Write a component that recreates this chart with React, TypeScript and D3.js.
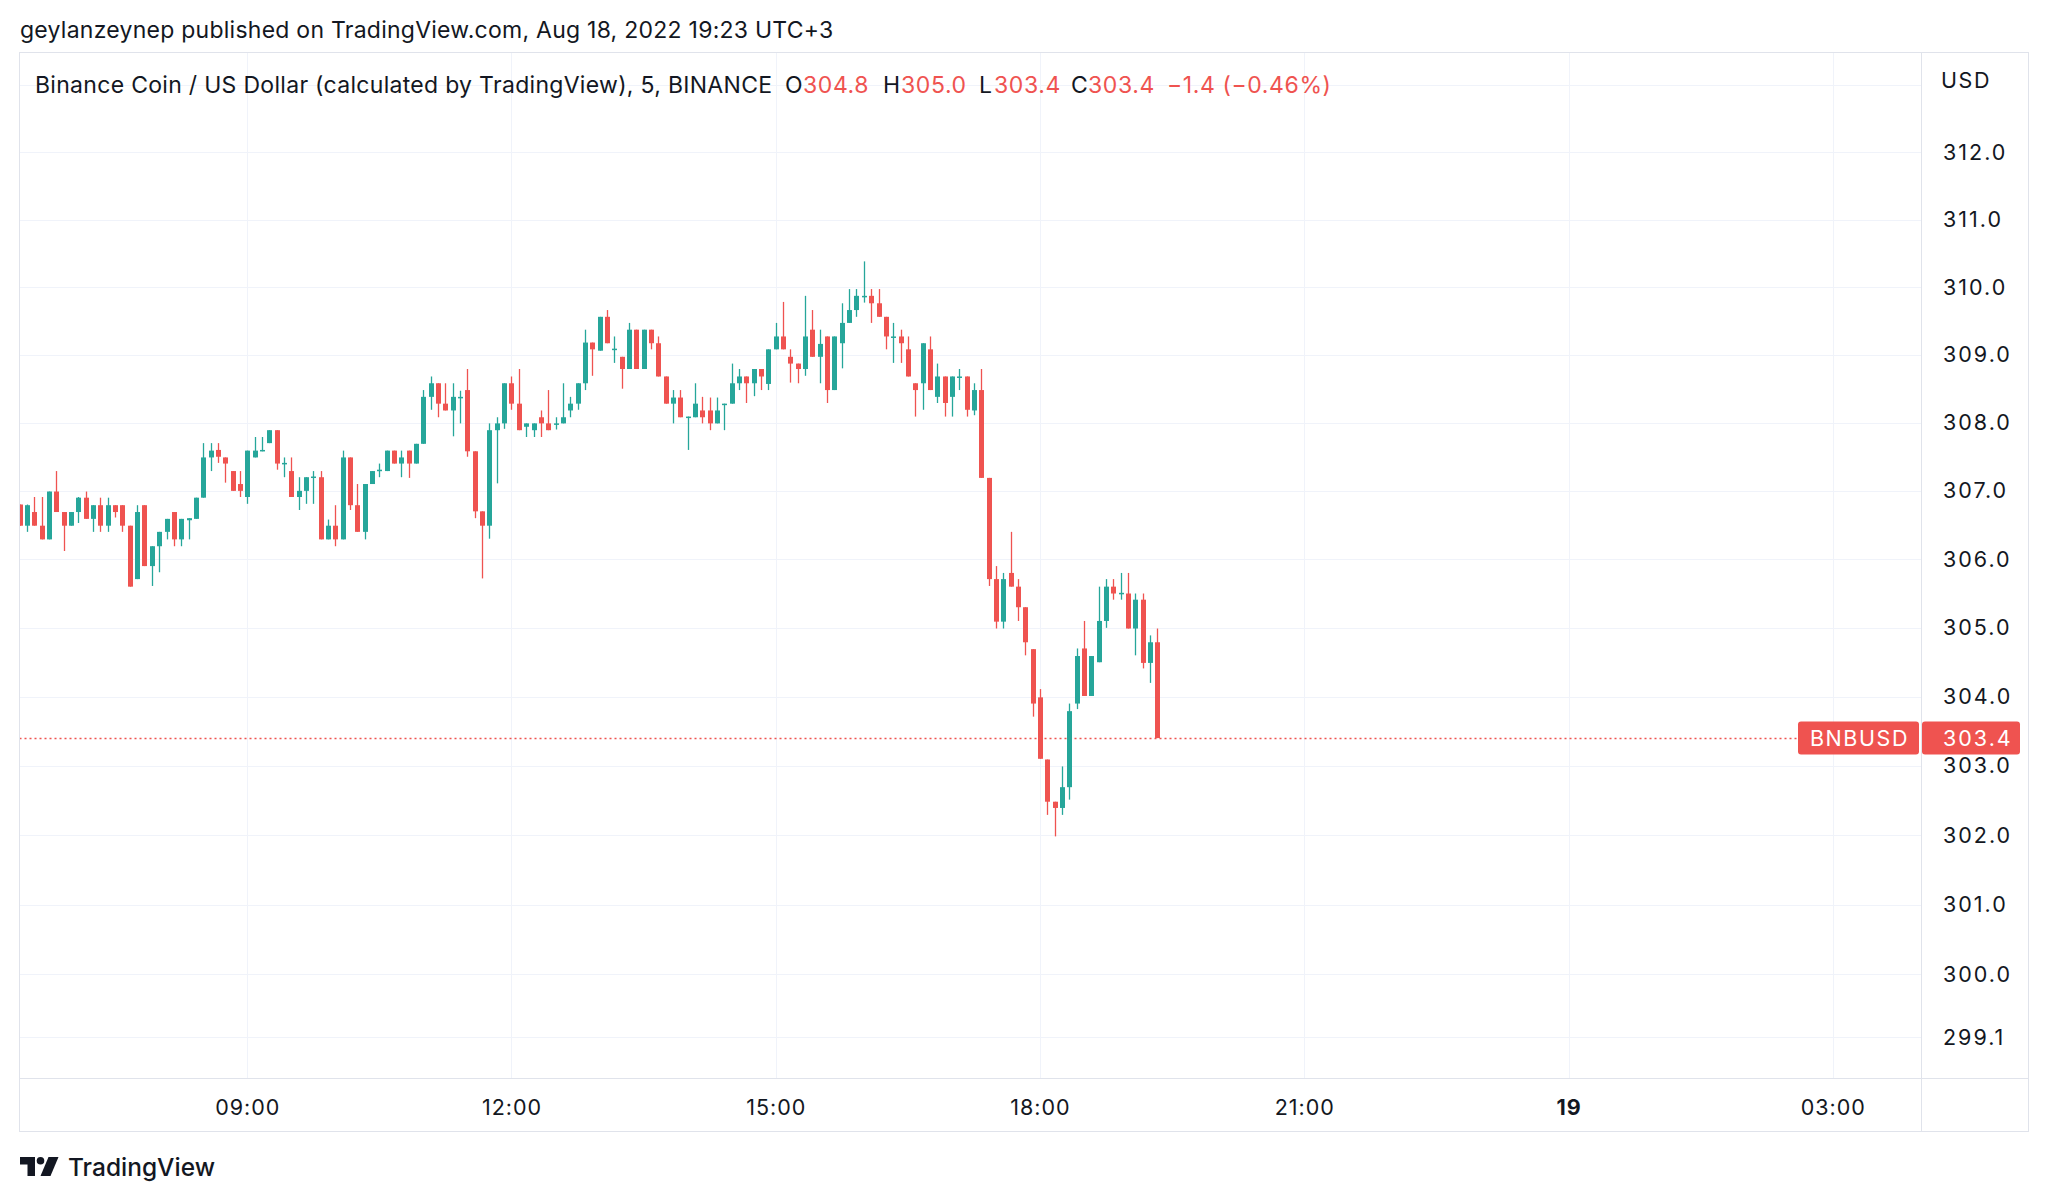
import React from 'react';
import * as d3 from 'd3';

// ---- data (5-minute candles, BNBUSD, Aug 18 2022, starting 06:25) ----
const START_TIME = new Date(2022, 7, 18, 6, 25);
const INTERVAL_MIN = 5;

const opens = [
  306.80, 306.49, 306.69, 306.49, 306.29, 306.99, 306.69, 306.49, 306.69, 306.90,
  306.59, 306.79, 306.49, 306.79, 306.79, 306.49, 305.71, 306.79, 305.90, 306.19,
  306.40, 306.69, 306.29, 306.57, 306.59, 306.90, 307.49, 307.60, 307.49, 307.29,
  307.10, 306.91, 307.49, 307.58, 307.70, 307.89, 307.40, 307.29, 306.91, 307.00,
  307.20, 307.20, 306.29, 306.49, 306.29, 307.49, 306.79, 306.40, 307.10, 307.29,
  307.29, 307.59, 307.40, 307.59, 307.40, 307.69, 308.38, 308.58, 308.28, 308.18,
  308.37, 308.48, 307.58, 306.70, 306.49, 307.89, 307.99, 308.58, 308.28, 307.94,
  307.89, 308.08, 307.99, 307.98, 307.99, 308.18, 308.28, 308.58, 309.18, 309.06,
  309.56, 309.08, 308.97, 308.79, 309.37, 308.79, 309.37, 309.17, 308.68, 308.28,
  308.37, 308.08, 308.08, 308.18, 308.18, 307.99, 308.27, 308.28, 308.58, 308.68,
  308.58, 308.79, 308.57, 309.08, 309.27, 308.97, 308.87, 308.79, 309.37, 308.97,
  309.27, 308.48, 309.17, 309.47, 309.66, 309.86, 309.87, 309.76, 309.56, 309.26,
  309.27, 309.08, 308.58, 308.58, 309.08, 308.38, 308.68, 308.38, 308.67, 308.68,
  308.18, 308.48, 307.19, 305.71, 305.09, 305.80, 305.60, 305.30, 304.69, 303.99,
  303.09, 302.48, 302.39, 302.69, 303.90, 304.70, 304.01, 304.50, 305.10, 305.60,
  305.50, 305.50, 304.99, 305.41, 304.49, 304.79,
];
const highs = [
  306.80, 306.80, 306.91, 306.91, 306.99, 307.29, 306.69, 306.69, 306.91, 306.99,
  306.79, 306.90, 306.90, 306.79, 306.79, 306.49, 306.79, 306.79, 306.19, 306.40,
  306.59, 306.69, 306.59, 306.60, 306.90, 307.70, 307.70, 307.70, 307.49, 307.29,
  307.29, 307.59, 307.79, 307.79, 307.89, 307.89, 307.49, 307.49, 307.20, 307.20,
  307.29, 307.29, 306.58, 306.79, 307.59, 307.49, 307.10, 307.10, 307.29, 307.40,
  307.59, 307.59, 307.59, 307.59, 307.69, 308.48, 308.68, 308.58, 308.58, 308.58,
  308.47, 308.79, 307.58, 306.70, 307.99, 308.08, 308.58, 308.68, 308.79, 307.99,
  307.99, 308.18, 308.48, 308.08, 308.58, 308.38, 308.58, 309.37, 309.18, 309.56,
  309.66, 309.27, 308.97, 309.47, 309.37, 309.37, 309.37, 309.27, 308.68, 308.48,
  308.48, 308.09, 308.58, 308.38, 308.37, 308.37, 308.28, 308.87, 308.79, 308.68,
  308.79, 308.79, 309.08, 309.47, 309.78, 309.08, 308.87, 309.87, 309.66, 309.37,
  309.27, 309.27, 309.76, 309.97, 309.97, 310.38, 309.97, 309.97, 309.56, 309.47,
  309.37, 309.27, 308.58, 309.17, 309.27, 308.87, 308.68, 308.68, 308.79, 308.68,
  308.58, 308.79, 307.19, 305.90, 305.80, 306.40, 305.71, 305.30, 304.69, 304.11,
  303.09, 302.48, 302.99, 303.90, 304.70, 305.10, 304.59, 305.60, 305.71, 305.71,
  305.80, 305.80, 305.50, 305.50, 304.89, 304.99,
];
const lows = [
  306.49, 306.40, 306.49, 306.29, 306.29, 306.69, 306.12, 306.49, 306.53, 306.59,
  306.40, 306.40, 306.40, 306.61, 306.40, 305.60, 305.71, 305.90, 305.61, 305.81,
  306.29, 306.19, 306.19, 306.29, 306.59, 306.90, 307.29, 307.41, 307.12, 307.00,
  306.91, 306.81, 307.49, 307.58, 307.70, 307.31, 307.20, 306.91, 306.72, 306.81,
  306.81, 306.29, 306.29, 306.19, 306.29, 306.72, 306.40, 306.29, 307.10, 307.20,
  307.29, 307.40, 307.20, 307.19, 307.40, 307.69, 308.19, 308.08, 308.18, 307.80,
  307.99, 307.50, 306.60, 305.72, 306.30, 307.11, 307.91, 308.19, 307.89, 307.79,
  307.79, 307.79, 307.89, 307.90, 307.99, 308.08, 308.19, 308.48, 308.69, 309.06,
  309.17, 308.88, 308.50, 308.79, 308.79, 308.79, 309.08, 308.68, 308.28, 307.99,
  308.08, 307.60, 308.08, 307.99, 307.89, 307.99, 307.89, 308.28, 308.48, 308.29,
  308.39, 308.48, 308.48, 309.08, 309.08, 308.59, 308.58, 308.69, 308.97, 308.58,
  308.29, 308.48, 308.80, 309.47, 309.56, 309.77, 309.47, 309.56, 309.08, 308.88,
  308.88, 308.68, 308.09, 308.19, 308.48, 308.29, 308.09, 308.09, 308.48, 308.09,
  308.11, 307.19, 305.61, 304.99, 304.99, 305.60, 305.10, 304.60, 303.71, 303.10,
  302.29, 301.98, 302.29, 302.51, 303.82, 304.01, 304.01, 304.50, 305.00, 305.41,
  305.41, 304.99, 304.60, 304.41, 304.20, 303.40,
];
const closes = [
  306.49, 306.79, 306.49, 306.29, 306.99, 306.69, 306.49, 306.69, 306.90, 306.59,
  306.79, 306.49, 306.79, 306.69, 306.49, 305.60, 306.69, 305.90, 306.19, 306.40,
  306.59, 306.29, 306.59, 306.60, 306.90, 307.49, 307.59, 307.50, 307.40, 307.00,
  307.00, 307.59, 307.59, 307.60, 307.89, 307.40, 307.41, 306.91, 307.00, 307.20,
  307.21, 306.29, 306.49, 306.29, 307.49, 306.79, 306.40, 307.10, 307.29, 307.31,
  307.59, 307.40, 307.49, 307.40, 307.69, 308.38, 308.58, 308.28, 308.18, 308.38,
  308.38, 307.58, 306.70, 306.49, 307.89, 307.99, 308.58, 308.28, 307.89, 307.99,
  307.99, 307.99, 307.89, 307.99, 308.08, 308.28, 308.58, 309.18, 309.08, 309.56,
  309.17, 309.09, 308.79, 309.37, 308.79, 309.37, 309.17, 308.68, 308.28, 308.37,
  308.08, 308.09, 308.28, 308.08, 307.99, 308.18, 308.28, 308.58, 308.68, 308.58,
  308.79, 308.68, 309.08, 309.27, 309.08, 308.87, 308.79, 309.27, 308.97, 309.16,
  308.48, 309.27, 309.47, 309.66, 309.87, 309.87, 309.76, 309.56, 309.27, 309.27,
  309.17, 308.68, 308.48, 309.17, 308.48, 308.68, 308.29, 308.68, 308.68, 308.19,
  308.48, 307.19, 305.71, 305.09, 305.71, 305.60, 305.30, 304.79, 303.90, 303.10,
  302.48, 302.39, 302.69, 303.79, 304.59, 304.01, 304.59, 305.10, 305.60, 305.50,
  305.51, 304.99, 305.41, 304.49, 304.79, 303.40,
];

const priceTicks = [299.1, 300, 301, 302, 303, 304, 305, 306, 307, 308, 309, 310, 311, 312];
const extraGridPrices = [313];
const priceTickLabels = ['299.1', '300.0', '301.0', '302.0', '303.0', '304.0', '305.0', '306.0', '307.0', '308.0', '309.0', '310.0', '311.0', '312.0'];

const timeTickDates = [
  new Date(2022, 7, 18, 9, 0),
  new Date(2022, 7, 18, 12, 0),
  new Date(2022, 7, 18, 15, 0),
  new Date(2022, 7, 18, 18, 0),
  new Date(2022, 7, 18, 21, 0),
  new Date(2022, 7, 19, 0, 0),
  new Date(2022, 7, 19, 3, 0),
];
const timeTickLabels = ['09:00', '12:00', '15:00', '18:00', '21:00', '19', '03:00'];
const timeTickBold = [false, false, false, false, false, true, false];

const lastPrice = 303.4;
const symbol = 'BNBUSD';

const UP = '#26a69a';
const DOWN = '#ef5350';
const TEXT = '#131722';
const GRID = '#f0f3fa';
const BORDER = '#e0e3eb';
const FONT = 'Inter, "Noto Sans", Roboto, sans-serif';

export default function App() {
  const W = 2048;
  const H = 1202;
  const plotLeft = 19.5;
  const plotTop = 52.5;
  const plotRight = 1921.5;
  const plotBottom = 1078.5;
  const frameRight = 2028.5;
  const frameBottom = 1131.5;

  const x = d3
    .scaleTime()
    .domain([START_TIME, new Date(2022, 7, 18, 18, 0)])
    .range([19.7, 1040]);
  const y = d3.scaleLog().domain([302, 308]).range([835, 422.7]);

  const candles = opens.map((o, i) => ({
    t: new Date(START_TIME.getTime() + i * INTERVAL_MIN * 60000),
    o,
    h: highs[i],
    l: lows[i],
    c: closes[i],
  }));

  const bodyW = 5;
  const axisFont = 21.5;
  const axisLS = 2;

  return (
    <svg
      width={W}
      height={H}
      style={{ position: 'absolute', left: 0, top: 0, background: '#fff' }}
      fontFamily={FONT}
    >
      <rect x={0} y={0} width={W} height={H} fill="#fff" />
      <defs>
        <clipPath id="plotClip">
          <rect x={plotLeft + 0.5} y={plotTop + 0.5} width={plotRight - plotLeft - 1} height={plotBottom - plotTop - 1} />
        </clipPath>
      </defs>

      {/* title */}
      <text x={20} y={38} fontSize={23} letterSpacing={0.25} fill={TEXT}>
        geylanzeynep published on TradingView.com, Aug 18, 2022 19:23 UTC+3
      </text>

      {/* gridlines */}
      <g stroke={GRID} strokeWidth={1}>
        {[...priceTicks, ...extraGridPrices].map((p, i) => {
          const yy = Math.round(y(p)) + 0.5;
          return <line key={'hg' + i} x1={plotLeft} x2={plotRight} y1={yy} y2={yy} />;
        })}
        {timeTickDates.map((d, i) => {
          const xx = Math.round(x(d)) + 0.5;
          return <line key={'vg' + i} x1={xx} x2={xx} y1={plotTop} y2={plotBottom} />;
        })}
      </g>

      {/* legend */}
      <text x={35} y={93} fontSize={23} letterSpacing={0.3} fill={TEXT}>
        Binance Coin / US Dollar (calculated by TradingView), 5, BINANCE
      </text>
      <text y={93} fontSize={23} letterSpacing={0.6} fill={TEXT}>
        <tspan x={785}>O</tspan>
        <tspan x={803} fill={DOWN}>304.8</tspan>
        <tspan x={883}>H</tspan>
        <tspan x={901} fill={DOWN}>305.0</tspan>
        <tspan x={979}>L</tspan>
        <tspan x={994} fill={DOWN}>303.4</tspan>
        <tspan x={1071}>C</tspan>
        <tspan x={1088} fill={DOWN}>303.4</tspan>
        <tspan x={1167} fill={DOWN}>−1.4 (−0.46%)</tspan>
      </text>

      {/* last price line */}
      <line
        x1={plotLeft}
        x2={1798}
        y1={Math.round(y(lastPrice)) + 0.5}
        y2={Math.round(y(lastPrice)) + 0.5}
        stroke={DOWN}
        strokeWidth={1.5}
        strokeDasharray="2 3"
      />

      {/* candles */}
      <g clipPath="url(#plotClip)">
        {candles.map((d, i) => {
          const cx = Math.round(x(d.t));
          const color = d.c >= d.o ? UP : DOWN;
          const yTop = y(Math.max(d.o, d.c));
          const yBot = y(Math.min(d.o, d.c));
          const bh = Math.max(1.5, yBot - yTop);
          return (
            <g key={i}>
              <line x1={cx + 0.5} x2={cx + 0.5} y1={y(d.h)} y2={y(d.l)} stroke={color} strokeWidth={1.3} />
              <rect x={cx + 0.5 - bodyW / 2} y={yTop} width={bodyW} height={bh} fill={color} />
            </g>
          );
        })}
      </g>

      {/* frame */}
      <g stroke={BORDER} strokeWidth={1} fill="none">
        <rect x={plotLeft} y={plotTop} width={frameRight - plotLeft} height={frameBottom - plotTop} />
        <line x1={plotLeft} x2={frameRight} y1={plotBottom} y2={plotBottom} />
        <line x1={plotRight} x2={plotRight} y1={plotTop} y2={frameBottom} />
      </g>

      {/* price axis labels */}
      <text x={1941} y={88} fontSize={axisFont} letterSpacing={1.6} fill={TEXT}>USD</text>
      {priceTicks.map((p, i) => (
        <text key={'pt' + i} x={1943} y={y(p) + 7.5} fontSize={axisFont} letterSpacing={axisLS} fill={TEXT}>
          {priceTickLabels[i]}
        </text>
      ))}

      {/* last price labels */}
      <rect x={1798} y={y(lastPrice) - 16.5} width={121} height={33} rx={3} fill={DOWN} />
      <text x={1859.5} y={y(lastPrice) + 7.5} fontSize={axisFont} letterSpacing={1.6} fill="#fff" textAnchor="middle">{symbol}</text>
      <rect x={1922} y={y(lastPrice) - 16.5} width={98} height={33} rx={3} fill={DOWN} />
      <text x={1943} y={y(lastPrice) + 7.5} fontSize={axisFont} letterSpacing={axisLS} fill="#fff">{lastPrice.toFixed(1)}</text>

      {/* time axis labels */}
      {timeTickDates.map((d, i) => (
        <text
          key={'tt' + i}
          x={x(d) + 0.5}
          y={1115}
          fontSize={axisFont}
          letterSpacing={1}
          fill={TEXT}
          textAnchor="middle"
          fontWeight={timeTickBold[i] ? 700 : 400}
        >
          {timeTickLabels[i]}
        </text>
      ))}

      {/* TradingView logo */}
      <g transform="translate(20,1157)" fill={TEXT}>
        <path d="M0,0 H15 V19 H7.5 V7.5 H0 Z" />
        <circle cx={20.5} cy={3.8} r={3.8} />
        <path d="M28.5,0 H38.5 L30.5,19 H20.5 Z" />
      </g>
      <text x={68} y={1176} fontSize={24.5} fill={TEXT} fontWeight={500}>TradingView</text>
    </svg>
  );
}
